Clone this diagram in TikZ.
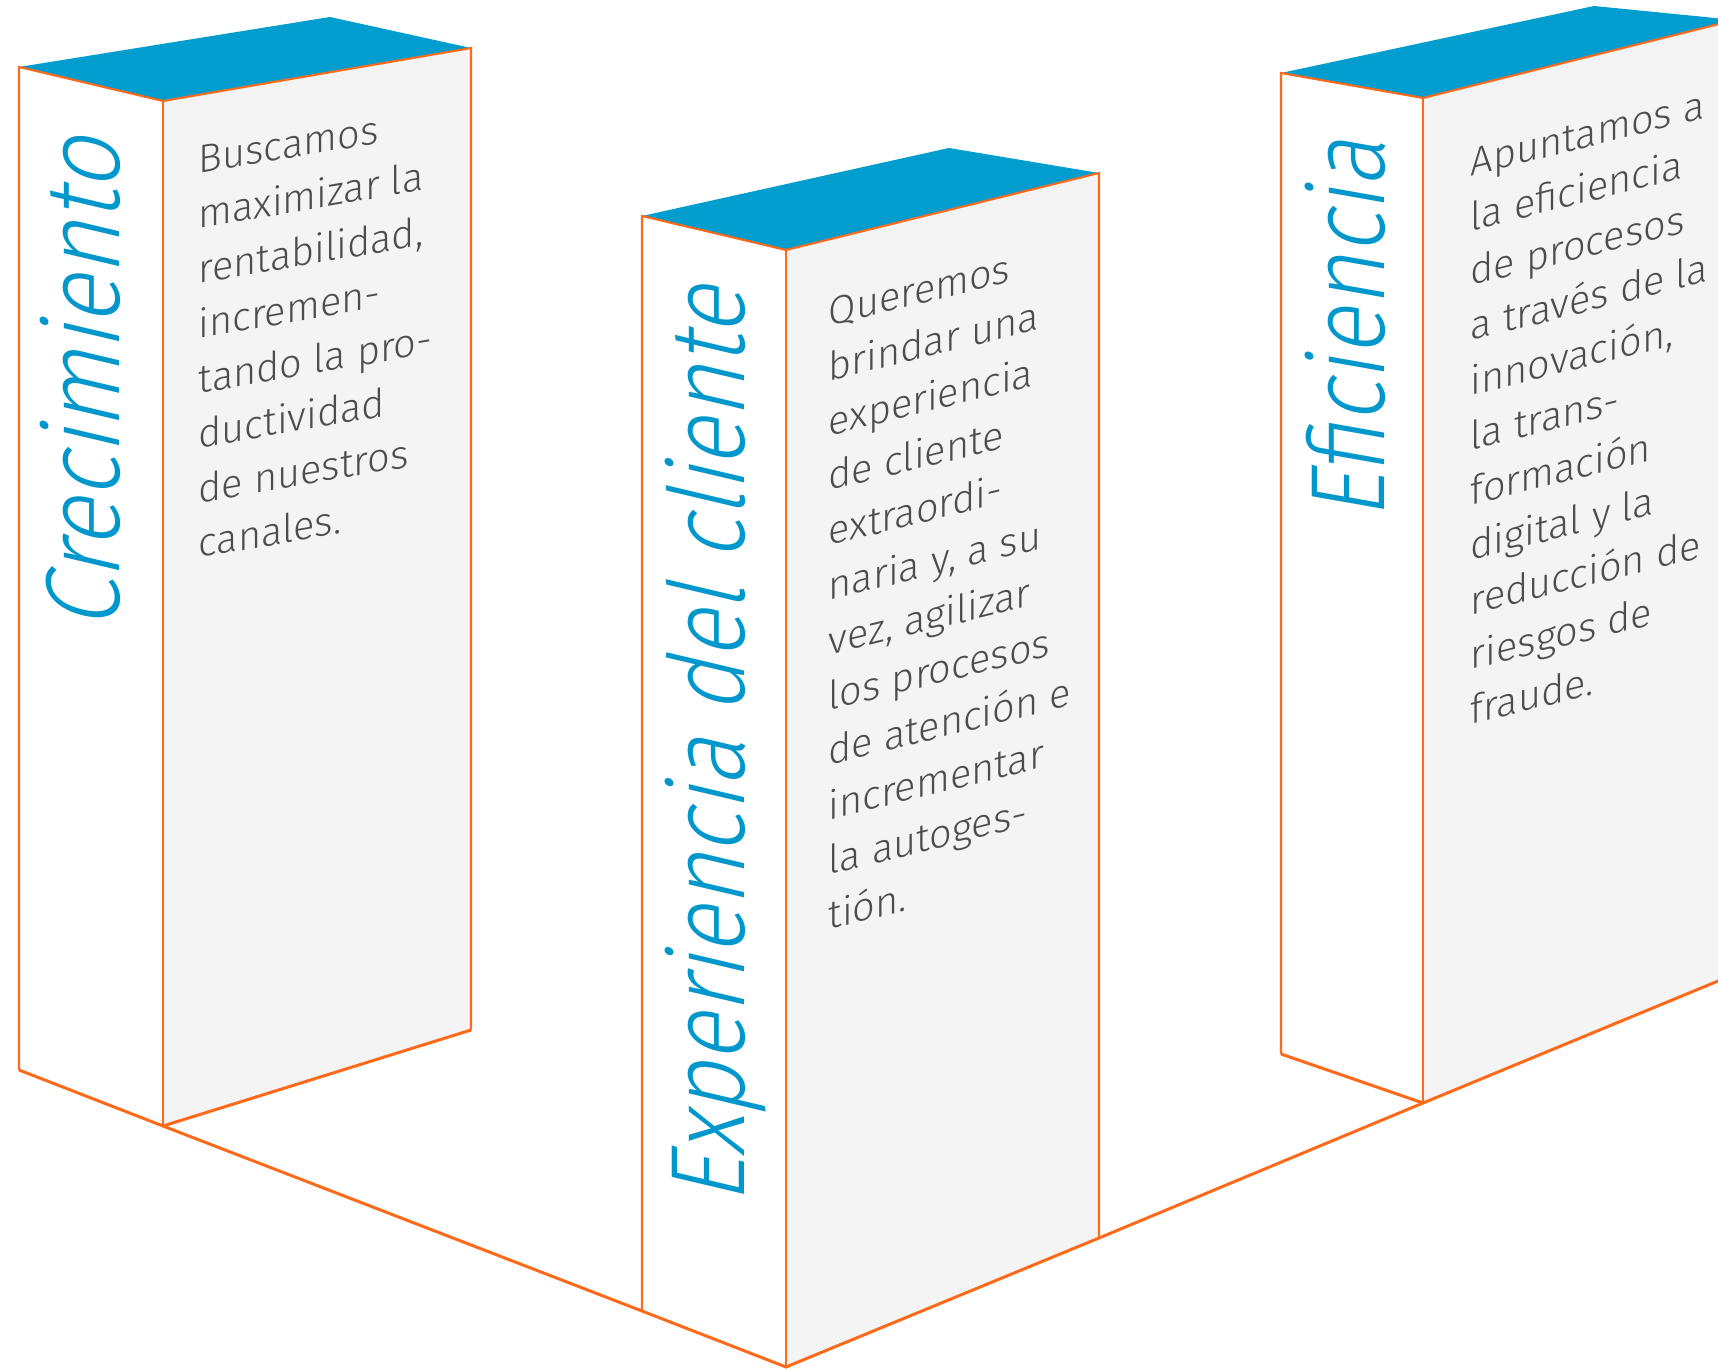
\documentclass[tikz,border=0pt]{standalone}
\usepackage{fontspec}
\IfFontExistsTF{Fira Sans Light}
  {\setmainfont{Fira Sans Light}}
  {\setmainfont{Fira Sans}}
\definecolor{TopBlue}{HTML}{009DCE}
\definecolor{TitleBlue}{HTML}{0098CC}
\definecolor{EdgeOrange}{HTML}{FF6A1A}
\definecolor{FaceGray}{HTML}{F4F4F4}
\definecolor{BodyGray}{HTML}{4D4D4D}
\usetikzlibrary{calc}

\begin{document}
\begin{tikzpicture}[
  x=0.01cm, y=0.01cm,
  edge/.style={draw=EdgeOrange, line width=0.6pt},
  floorline/.style={draw=EdgeOrange, line width=0.85pt},
  sideface/.style={fill=white},
  frontface/.style={fill=FaceGray},
  roof/.style={fill=TopBlue},
  heading/.style={
    font=\fontsize{30}{36}\selectfont,
    text=TitleBlue, inner sep=0pt,
    anchor=base west
  },
  blurb/.style={
    font=\fontsize{11.3}{15.6}\selectfont,
    text=BodyGray, inner sep=0pt,
    align=left, anchor=base west
  }
]
  \useasboundingbox (0,0) rectangle (1718,-1370);
  \clip (0,0) rectangle (1718,-1370);

  % Block corners: L left, M middle, R right, K back (top), b = bottom
  \coordinate (crecL) at (19,-67);
  \coordinate (crecM) at (163,-101);
  \coordinate (crecR) at (471,-48);
  \coordinate (crecK) at (330,-17);
  \coordinate (crecLb) at (19,-1070);
  \coordinate (crecMb) at (163,-1126);
  \coordinate (crecRb) at (471,-1030);

  \coordinate (expeL) at (642,-216);
  \coordinate (expeM) at (786,-250);
  \coordinate (expeR) at (1099,-173);
  \coordinate (expeK) at (949,-148);
  \coordinate (expeLb) at (642,-1311);
  \coordinate (expeMb) at (786,-1367);
  \coordinate (expeRb) at (1099,-1238);

  \coordinate (eficL) at (1281,-73);
  \coordinate (eficM) at (1423,-98);
  \coordinate (eficR) at (1735,-20);
  \coordinate (eficK) at (1594,-6);
  \coordinate (eficLb) at (1281,-1054);
  \coordinate (eficMb) at (1423,-1103);
  \coordinate (eficRb) at (1735,-974);

  % Faces
  \foreach \b in {crec,expe,efic} {
    \fill[sideface] (\b L) -- (\b M) -- (\b Mb) -- (\b Lb) -- cycle;
    \fill[frontface] (\b M) -- (\b R) -- (\b Rb) -- (\b Mb) -- cycle;
    \fill[roof] (\b L) -- (\b K) -- (\b R) -- (\b M) -- cycle;
    \draw[edge] (\b Lb) -- (\b L) -- (\b M) -- (\b R) -- (\b Rb);
    \draw[edge] (\b M) -- (\b Mb);
  }

  % Floor
  \draw[floorline] (crecLb) -- (crecMb) -- (crecRb);
  \draw[floorline] (crecMb) -- (expeLb) -- (expeMb) -- (expeRb)
    -- (eficMb) -- (eficRb);
  \draw[floorline] (eficLb) -- (eficMb);

  % Titles on the side faces
  \node[heading, yslant=-0.236, rotate=90, xscale=0.88]
    (crecTitle) at (119,-631) {Crecimiento};
  \node[heading, yslant=-0.236, rotate=90, xscale=0.86]
    (expeTitle) at (744,-1205) {Experiencia del cliente};
  \node[heading, yslant=-0.176, rotate=90, xscale=0.86]
    (eficTitle) at (1384,-520) {Eficiencia};

  % Text on the front faces (anchored at the last line)
  \node[blurb, yslant=0.172] (crecText) at (198,-558)
    {Buscamos\\maximizar la\\rentabilidad,\\incremen-\\tando la pro-\\ductividad\\de nuestros\\canales.};
  \node[blurb, yslant=0.246] (expeText) at (828,-930)
    {Queremos\\brindar una\\experiencia\\de cliente\\extraordi-\\naria y, a su\\vez, agilizar\\los procesos\\de atención e\\incrementar\\la autoges-\\tión.};
  \node[blurb, yslant=0.249] (eficText) at (1470,-725)
    {Apuntamos a\\la eficiencia\\de procesos\\a través de la\\innovación,\\la trans-\\formación\\digital y la\\reducción de\\riesgos de\\fraude.};
\end{tikzpicture}
\end{document}
